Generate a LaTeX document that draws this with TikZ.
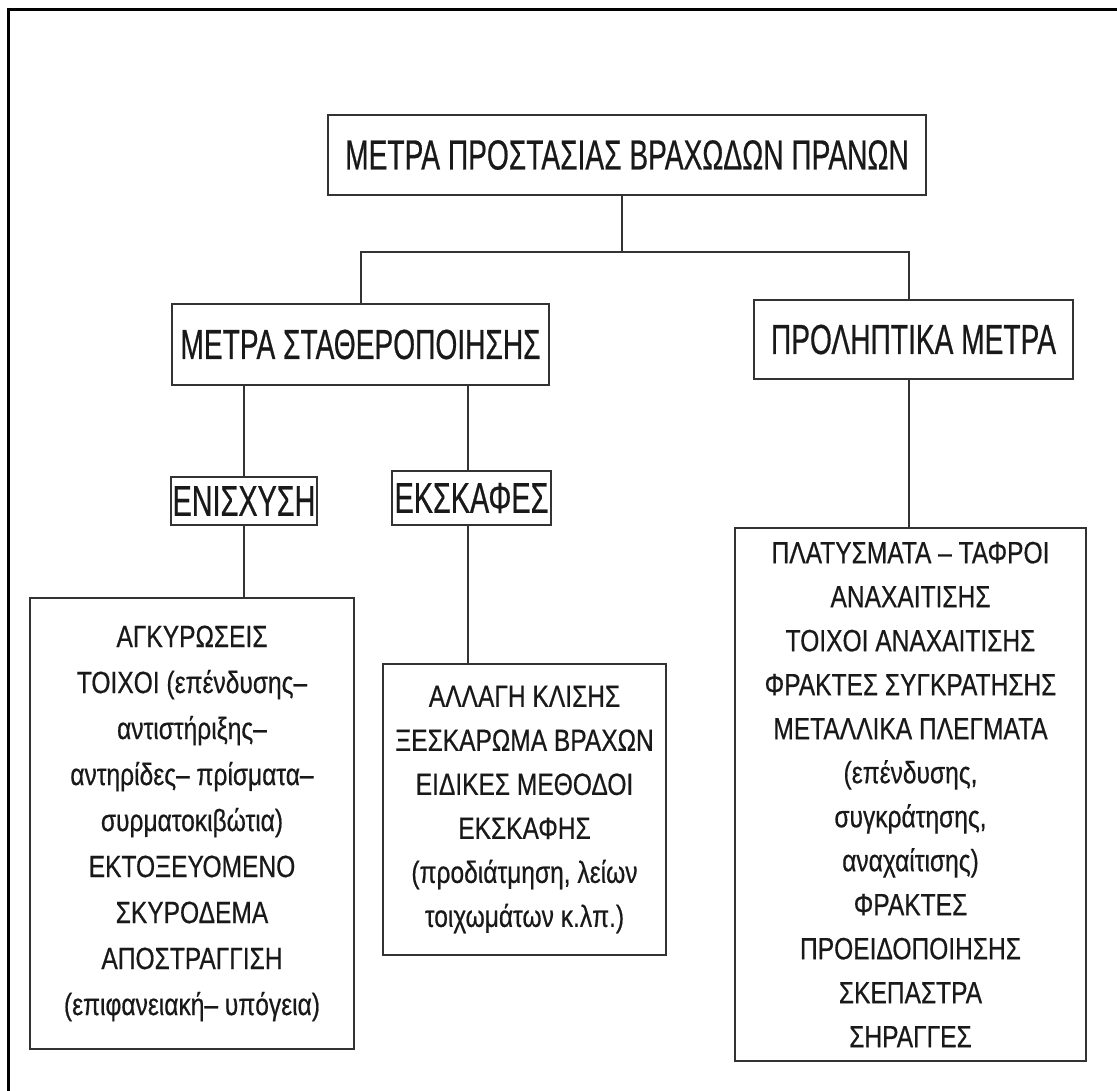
\documentclass[tikz,border=0pt]{standalone}
\usepackage{fontspec}
\newfontfamily\headfont[FakeStretch=0.67,FakeBold=0.5]{Liberation Sans}
\newfontfamily\bodyfont[FakeStretch=0.8,FakeBold=0.5]{Liberation Sans}
\begin{document}
\begin{tikzpicture}[x=1pt,y=-1pt,
  box/.style={draw=black!80, line width=2.2pt, rectangle, inner sep=0pt, align=center, text=black!90},
  head/.style={box, font={\headfont\fontsize{42pt}{50pt}\selectfont}},
  body/.style={box, font={\bodyfont\fontsize{30.7pt}{44pt}\selectfont}},
  conn/.style={draw=black!80, line width=1.5pt},
  frame/.style={draw=black, line width=3pt}]
\useasboundingbox (0,0) rectangle (1117,1091);
\fill[white] (0,0) rectangle (1117,1091);
\draw[frame] (8.5,1091) -- (8.5,10) -- (1117,10);

\node[head, minimum width=598pt, minimum height=80pt] (top) at (627,155) {ΜΕΤΡΑ ΠΡΟΣΤΑΣΙΑΣ ΒΡΑΧΩΔΩΝ ΠΡΑΝΩΝ};
\node[head, minimum width=377pt, minimum height=81pt] (stab) at (360.5,344.5) {ΜΕΤΡΑ ΣΤΑΘΕΡΟΠΟΙΗΣΗΣ};
\node[head, minimum width=319pt, minimum height=79pt] (prol) at (913.5,339.5) {ΠΡΟΛΗΠΤΙΚΑ ΜΕΤΡΑ};
\node[head, font={\headfont\fontsize{43pt}{50pt}\selectfont}, minimum width=146pt, minimum height=48pt] (enis) at (244,501) {ΕΝΙΣΧΥΣΗ};
\node[head, font={\headfont\fontsize{43pt}{50pt}\selectfont}, minimum width=159pt, minimum height=54pt] (eksk) at (471.5,498) {ΕΚΣΚΑΦΕΣ};

\node[body, font={\bodyfont\fontsize{30.7pt}{46pt}\selectfont}, minimum width=324pt, minimum height=451pt] (agk) at (192,823.5) {ΑΓΚΥΡΩΣΕΙΣ\\ ΤΟΙΧΟΙ (επένδυσης–\\ αντιστήριξης–\\ αντηρίδες– πρίσματα–\\ συρματοκιβώτια)\\ ΕΚΤΟΞΕΥΟΜΕΝΟ\\ ΣΚΥΡΟΔΕΜΑ\\ ΑΠΟΣΤΡΑΓΓΙΣΗ\\ (επιφανειακή– υπόγεια)};
\node[body, minimum width=283pt, minimum height=291pt] (allag) at (524.5,809.5) {ΑΛΛΑΓΗ ΚΛΙΣΗΣ\\ ΞΕΣΚΑΡΩΜΑ ΒΡΑΧΩΝ\\ ΕΙΔΙΚΕΣ ΜΕΘΟΔΟΙ\\ ΕΚΣΚΑΦΗΣ\\ (προδιάτμηση, λείων\\ τοιχωμάτων κ.λπ.)};
\node[body, minimum width=351pt, minimum height=533pt] (prev) at (910.5,794.5) {ΠΛΑΤΥΣΜΑΤΑ – ΤΑΦΡΟΙ\\ ΑΝΑΧΑΙΤΙΣΗΣ\\ ΤΟΙΧΟΙ ΑΝΑΧΑΙΤΙΣΗΣ\\ ΦΡΑΚΤΕΣ ΣΥΓΚΡΑΤΗΣΗΣ\\ ΜΕΤΑΛΛΙΚΑ ΠΛΕΓΜΑΤΑ\\ (επένδυσης,\\ συγκράτησης,\\ αναχαίτισης)\\ ΦΡΑΚΤΕΣ\\ ΠΡΟΕΙΔΟΠΟΙΗΣΗΣ\\ ΣΚΕΠΑΣΤΡΑ\\ ΣΗΡΑΓΓΕΣ};

\coordinate (j) at (622,252);
\coordinate (hl) at (361,252);
\coordinate (hr) at (909,252);
\coordinate (ex) at (468,0);
\draw[conn] (top.south -| j) -- (j);
\draw[conn] (stab.north -| hl) -- (hl) -- (hr) -- (prol.north -| hr);
\draw[conn] (stab.south -| enis.north) -- (enis.north);
\draw[conn] (stab.south -| ex) -- (eksk.north -| ex);
\draw[conn] (enis.south) -- (agk.north -| enis.south);
\draw[conn] (eksk.south -| ex) -- (allag.north -| ex);
\draw[conn] (prol.south -| hr) -- (prev.north -| hr);
\end{tikzpicture}
\end{document}
